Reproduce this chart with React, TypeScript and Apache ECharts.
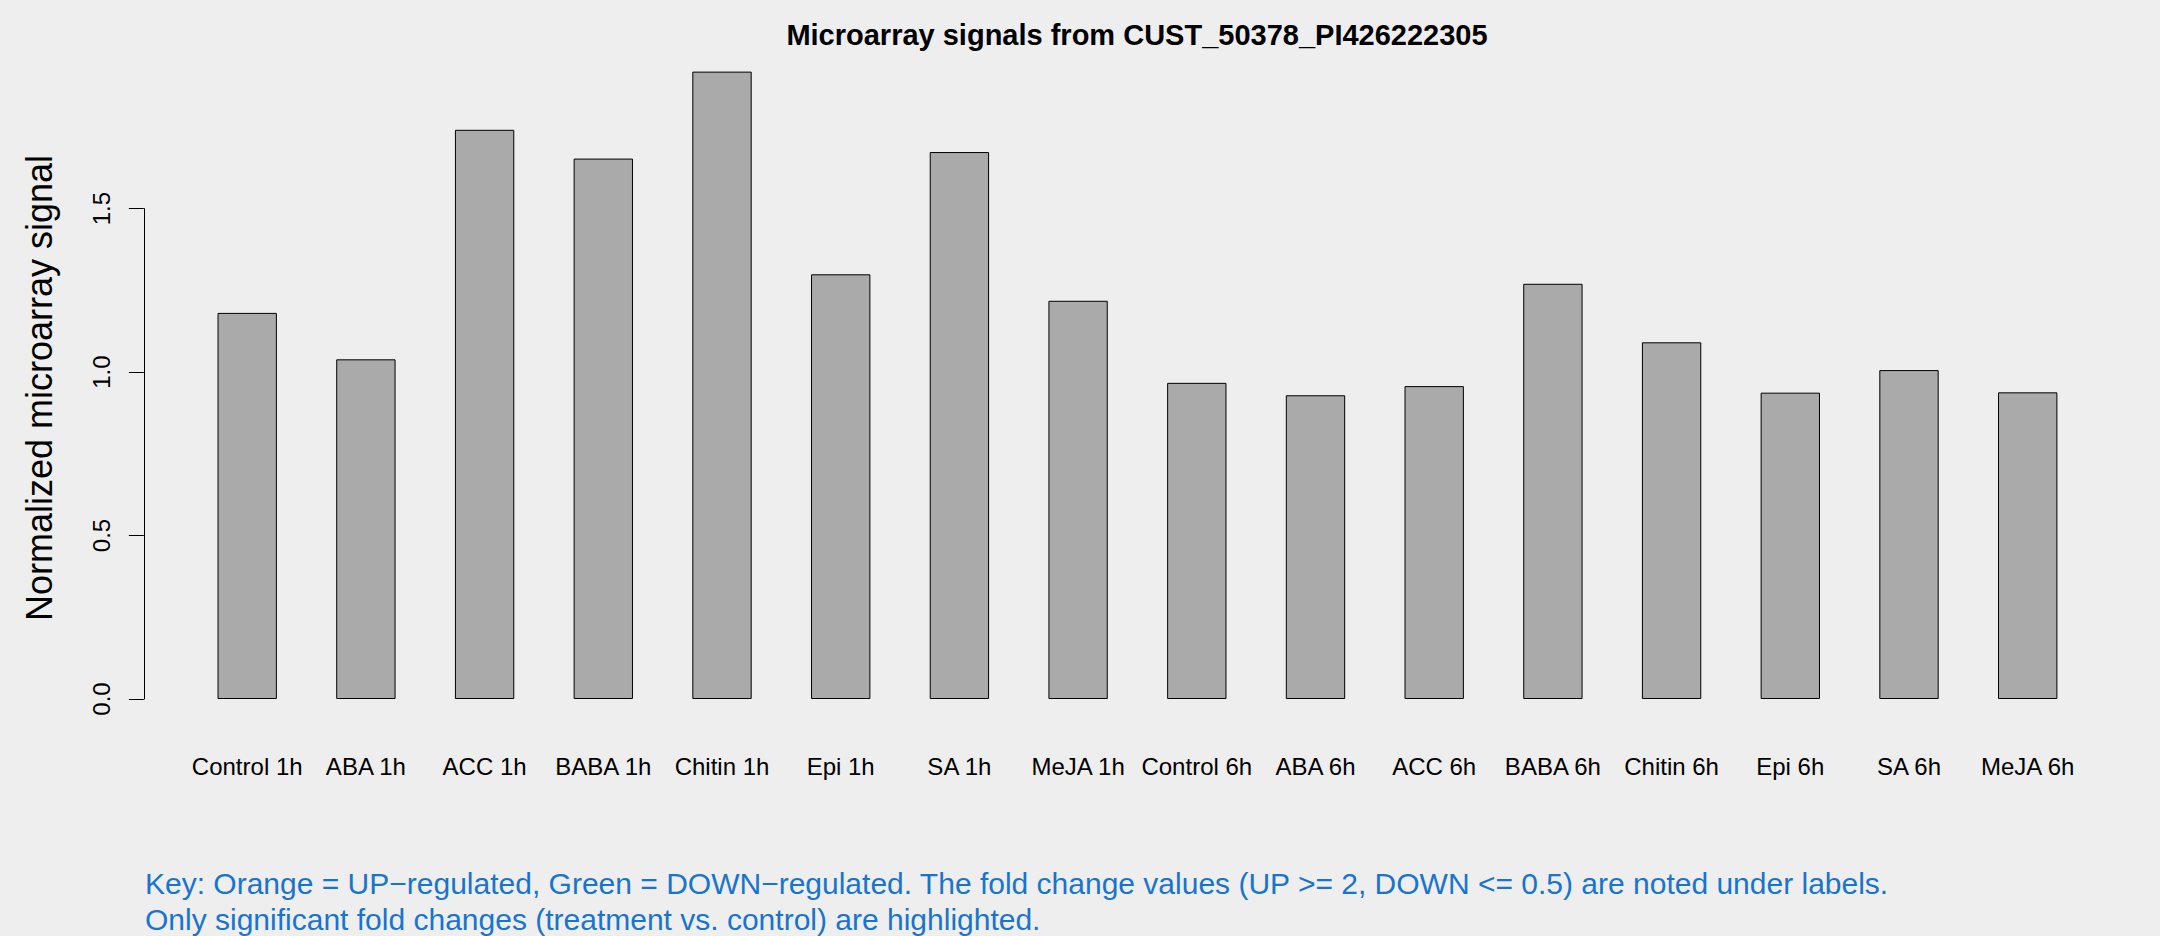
import React, { useEffect, useRef } from "react";
import * as echarts from "echarts";

const categories = [
  "Control 1h", "ABA 1h", "ACC 1h", "BABA 1h", "Chitin 1h", "Epi 1h", "SA 1h", "MeJA 1h",
  "Control 6h", "ABA 6h", "ACC 6h", "BABA 6h", "Chitin 6h", "Epi 6h", "SA 6h", "MeJA 6h",
];
const signals = [
  1.181, 1.039, 1.741, 1.653, 1.919, 1.299, 1.673, 1.218,
  0.967, 0.929, 0.957, 1.27, 1.091, 0.937, 1.006, 0.938,
];
const yMin = 0;
const yMax = 1.5;
const yInterval = 0.5;

const chartTitle = "Microarray signals from CUST_50378_PI426222305";
const yAxisTitle = "Normalized microarray signal";
const noteLines = [
  "Key: Orange = UP\u2212regulated, Green = DOWN\u2212regulated. The fold change values (UP >= 2, DOWN <= 0.5) are noted under labels.",
  "Only significant fold changes (treatment vs. control) are highlighted.",
];

const FONT = "'Liberation Sans', Arial, Helvetica, sans-serif";

export default function App() {
  const ref = useRef<HTMLDivElement | null>(null);

  useEffect(() => {
    if (!ref.current) return;
    const chart = echarts.init(ref.current, undefined, { renderer: "svg" });
    chart.setOption({
      animation: false,
      backgroundColor: "#EEEEEE",
      textStyle: { fontFamily: FONT },
      grid: { left: 187.85, right: 72.95, top: 208.6, bottom: 237, containLabel: false },
      xAxis: {
        type: "category",
        data: categories,
        boundaryGap: true,
        axisLine: { show: false },
        axisTick: { show: false },
        splitLine: { show: false },
        axisLabel: {
          interval: 0,
          margin: 55,
          fontSize: 24,
          color: "#000",
          fontFamily: FONT,
        },
      },
      yAxis: {
        type: "value",
        min: yMin,
        max: yMax,
        interval: yInterval,
        offset: 44,
        splitLine: { show: false },
        axisLine: { show: true, lineStyle: { color: "#000", width: 1 } },
        axisTick: { show: true, length: 15, lineStyle: { color: "#000", width: 1 } },
        axisLabel: {
          rotate: 90,
          margin: 30,
          fontSize: 24,
          color: "#000",
          fontFamily: FONT,
          formatter: (v: number) => v.toFixed(1),
        },
      },
      series: [
        {
          type: "bar",
          data: signals,
          barWidth: "50%",
          clip: false,
          itemStyle: { color: "#AAAAAA", borderColor: "#000", borderWidth: 1 },
          emphasis: { disabled: true },
        },
      ],
      graphic: [
        {
          type: "text",
          x: 1137,
          y: 35,
          style: {
            text: chartTitle,
            font: `bold 29px ${FONT}`,
            fill: "#000",
            textAlign: "center",
            textVerticalAlign: "middle",
          },
        },
        {
          type: "text",
          x: 39.5,
          y: 388,
          rotation: Math.PI / 2,
          style: {
            text: yAxisTitle,
            font: `36px ${FONT}`,
            fill: "#000",
            textAlign: "center",
            textVerticalAlign: "middle",
          },
        },
        ...noteLines.map((line, i) => ({
          type: "text",
          x: 145,
          y: 883 + i * 36,
          style: {
            text: line,
            font: `30px ${FONT}`,
            fill: "#1874CD",
            textAlign: "left",
            textVerticalAlign: "middle",
          },
        })),
      ],
    });
    return () => chart.dispose();
  }, []);

  return (
    <div
      ref={ref}
      style={{ position: "fixed", left: 0, top: 0, width: "2160px", height: "936px" }}
    />
  );
}
